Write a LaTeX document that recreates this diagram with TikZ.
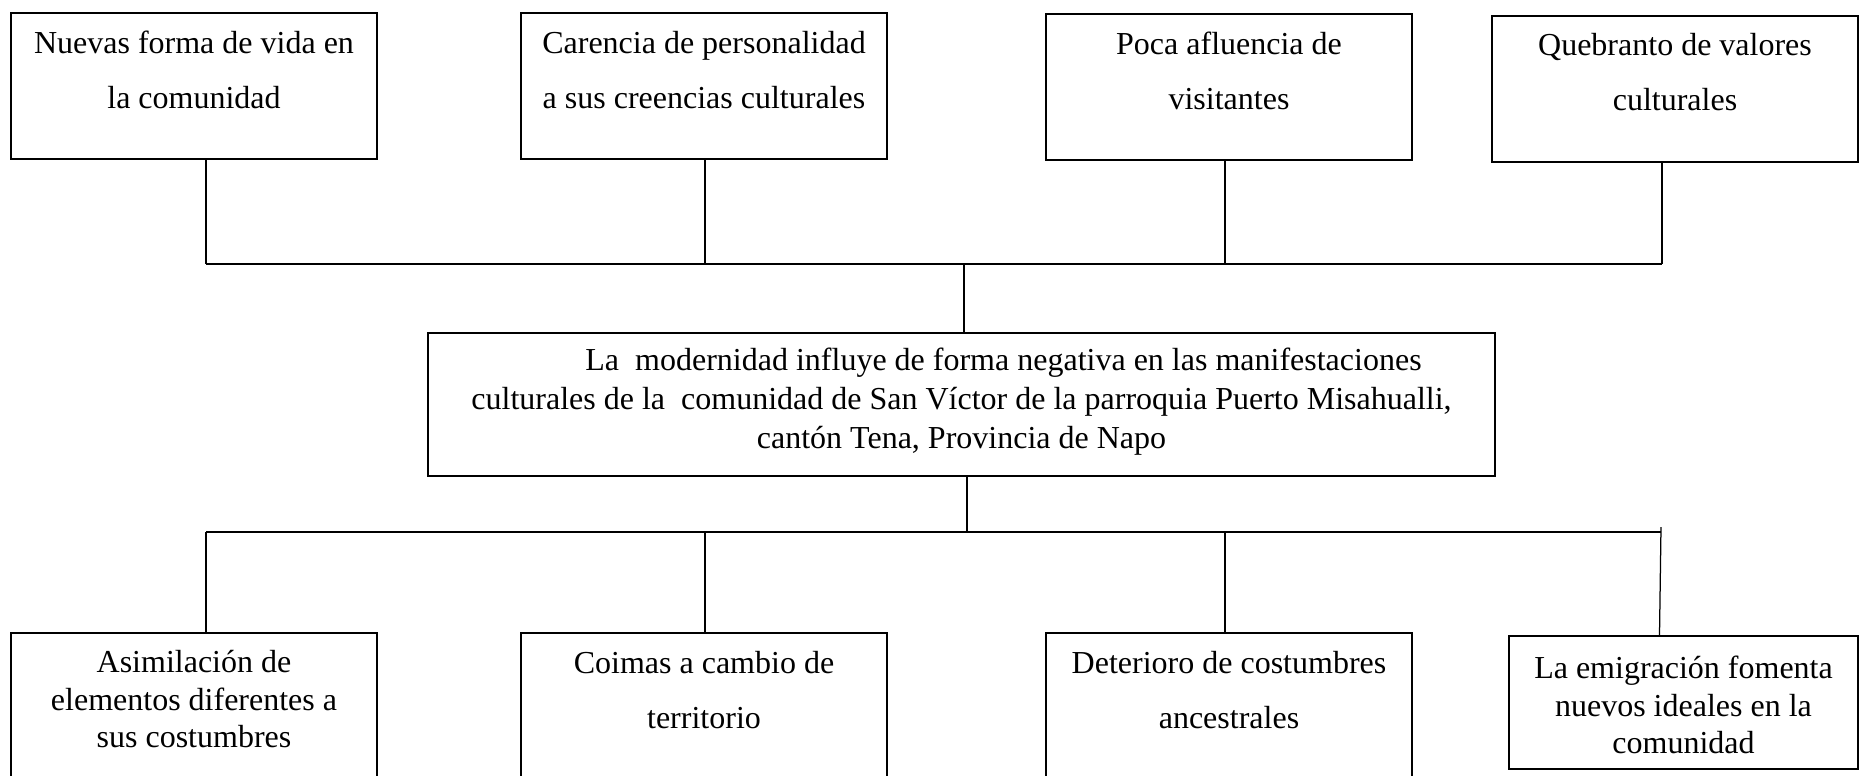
\documentclass[tikz,border=0pt]{standalone}
\usepackage{fontspec}
\setmainfont{Liberation Serif}
\usetikzlibrary{positioning}
\tikzset{
  caja/.style={draw, line width=0.8pt, inner sep=0pt, minimum width=146.4pt, minimum height=58.4pt},
  texto/.style={inner sep=0pt, align=center, font=\fontsize{12.8}{22}\selectfont},
  textoapretado/.style={texto, font=\fontsize{12.8}{15}\selectfont},
  conector/.style={line width=0.5pt},
  barra/.style={line width=0.7pt}
}

\begin{document}
\begin{tikzpicture}[x=0.4pt, y=-0.4pt]
		%%%%% START %%%%%
		
		\useasboundingbox (0,0) rectangle (1860,775);
		\clip (0,0) rectangle (1860,775);
		
		% causas de arriba
		\node[caja] (c1) at (194,86) {};
		\node[caja] (c2) at (704,86) {};
		\node[caja] (c3) at (1229,86.5) {};
		\node[caja] (c4) at (1675,88.5) {};
		\node[texto, below=7.5pt of c1.north] (tc1) {Nuevas forma de vida en\\la comunidad};
		\node[texto, below=7.5pt of c2.north] (tc2) {Carencia de personalidad\\a sus creencias culturales};
		\node[texto, below=7.5pt of c3.north] (tc3) {Poca afluencia de\\visitantes};
		\node[texto, below=7.5pt of c4.north] (tc4) {Quebranto de valores\\culturales};
		
		% problema central
		\node[caja, minimum width=426.8pt, minimum height=57.2pt] (p) at (961.5,404.5) {};
		\node[textoapretado, font=\fontsize{12.8}{15.6}\selectfont, below=6.3pt of p.north] (tp)
		  {\hspace*{33.6pt}La\ \ modernidad influye de forma negativa en las manifestaciones\\culturales de la\ \ comunidad de San V\'ictor de la parroquia Puerto Misahualli,\\cant\'on Tena, Provincia de Napo};
		
		% efectos de abajo
		\node[caja, minimum height=60.8pt] (b1) at (194,709) {};
		\node[caja, minimum height=60.8pt] (b2) at (704,709) {};
		\node[caja, minimum height=60.8pt] (b3) at (1229,709) {};
		\node[caja, minimum width=139.6pt, minimum height=53.2pt] (b4) at (1683.5,702.5) {};
		\node[textoapretado, below=7.1pt of b1.north] (tb1) {Asimilaci\'on de\\elementos diferentes a\\sus costumbres};
		\node[texto, below=7.5pt of b2.north] (tb2) {Coimas a cambio de\\territorio};
		\node[texto, below=7.5pt of b3.north] (tb3) {Deterioro de costumbres\\ancestrales};
		\node[textoapretado, below=8.3pt of b4.north] (tb4) {La emigraci\'on fomenta\\nuevos ideales en la\\comunidad};
		
		\coordinate (j0) at (964,264);
		\coordinate (j1) at (206,264);
		\coordinate (j2) at (705,264);
		\coordinate (j3) at (1225,264);
		\coordinate (j4) at (1662,264);
		\coordinate (k0) at (967,532);
		\coordinate (k1) at (206,532);
		\coordinate (k2) at (705,532);
		\coordinate (k3) at (1225,532);
		\coordinate (k4) at (1661,532);
		
		\draw[conector] (c1.south -| j1) -- (j1);
		\draw[conector] (c2.south -| j2) -- (j2);
		\draw[conector] (c3.south -| j3) -- (j3);
		\draw[conector] (c4.south -| j4) -- (j4);
		\draw[barra] (j1) -- (j4);
		\draw[conector] (j0) -- (p.north -| j0);
		
		\draw[conector] (p.south -| k0) -- (k0);
		\draw[barra] (k1) -- (k4);
		\draw[conector] (k1) -- (b1.north -| k1);
		\draw[conector] (k2) -- (b2.north -| k2);
		\draw[conector] (k3) -- (b3.north -| k3);
		\draw[conector] ([yshift=2pt]k4) -- ([xshift=-0.6pt]b4.north -| k4);
		
		%%%%% END %%%%%
\end{tikzpicture}
\end{document}
